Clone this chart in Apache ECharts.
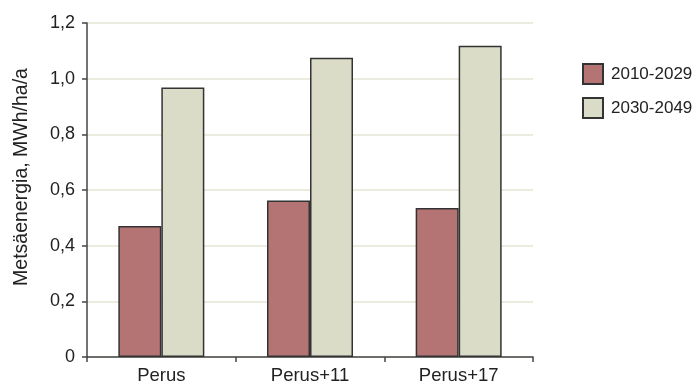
<!DOCTYPE html>
<html>
<head>
<meta charset="utf-8">
<script src="https://cdn.jsdelivr.net/npm/echarts@6/dist/echarts.min.js"></script>
<style>
  html, body { margin: 0; padding: 0; background: #fff; }
  #root { width: 695px; height: 387px; }
</style>
</head>
<body>
<div id="root"></div>
<script>
// data
const categories = ['Perus', 'Perus+11', 'Perus+17']
const seriesNames = ['2010-2029', '2030-2049']
const values2010 = [0.471, 0.562, 0.535]
const values2030 = [0.968, 1.075, 1.118]
const yTicks = [0, 0.2, 0.4, 0.6, 0.8, 1.0, 1.2]

const FONT = '"Liberation Sans", Arial, sans-serif'
const TXT = '#222'

var myChart = echarts.init(document.getElementById('root'), null, { renderer: 'canvas' })

const option = {
  animation: false,
  textStyle: { fontFamily: FONT, color: TXT },
  grid: { left: 87, right: 162, top: 23, bottom: 30 },
  legend: {
    orient: 'vertical',
    left: 582,
    top: 63,
    padding: 0,
    itemWidth: 20,
    itemHeight: 20,
    itemGap: 12,
    icon: 'rect',
    textStyle: { fontFamily: FONT, fontSize: 17, color: TXT, padding: [0, 0, 0, 3] },
    data: seriesNames
  },
  xAxis: {
    type: 'category',
    data: categories,
    axisLine: { lineStyle: { color: '#444', width: 1.5 } },
    axisTick: { show: true, length: 5, lineStyle: { color: '#444', width: 1.5 } },
    axisLabel: { fontFamily: FONT, fontSize: 18.5, color: TXT, margin: 9 }
  },
  yAxis: {
    type: 'value',
    min: 0,
    max: 1.2,
    interval: 0.2,
    axisLine: { show: true, lineStyle: { color: '#444', width: 1.5 } },
    axisTick: { show: true, length: 5, lineStyle: { color: '#444', width: 1.5 } },
    splitLine: { lineStyle: { color: '#e4e4d4', width: 1.5 } },
    axisLabel: {
      fontFamily: FONT, fontSize: 18, color: TXT, margin: 12,
      formatter: function (v) {
        const t = yTicks.find(x => Math.abs(x - v) < 1e-6)
        if (t === 0) return '0'
        return t.toFixed(1).replace('.', ',')
      }
    }
  },
  graphic: [{
    type: 'text',
    rotation: Math.PI / 2,
    x: 22,
    y: 177,
    style: {
      text: 'Metsäenergia, MWh/ha/a',
      font: '19.5px ' + FONT,
      fill: TXT,
      align: 'center',
      verticalAlign: 'middle'
    }
  }],
  series: [
    {
      name: seriesNames[0],
      type: 'bar',
      data: values2010,
      barWidth: 43,
      barGap: '0%',
      itemStyle: { color: '#b57474', borderColor: '#333', borderWidth: 1.5 }
    },
    {
      name: seriesNames[1],
      type: 'bar',
      data: values2030,
      barWidth: 43,
      barGap: '0%',
      itemStyle: { color: '#dadcc7', borderColor: '#333', borderWidth: 1.5 }
    }
  ]
}
myChart.setOption(option)
</script>
</body>
</html>
